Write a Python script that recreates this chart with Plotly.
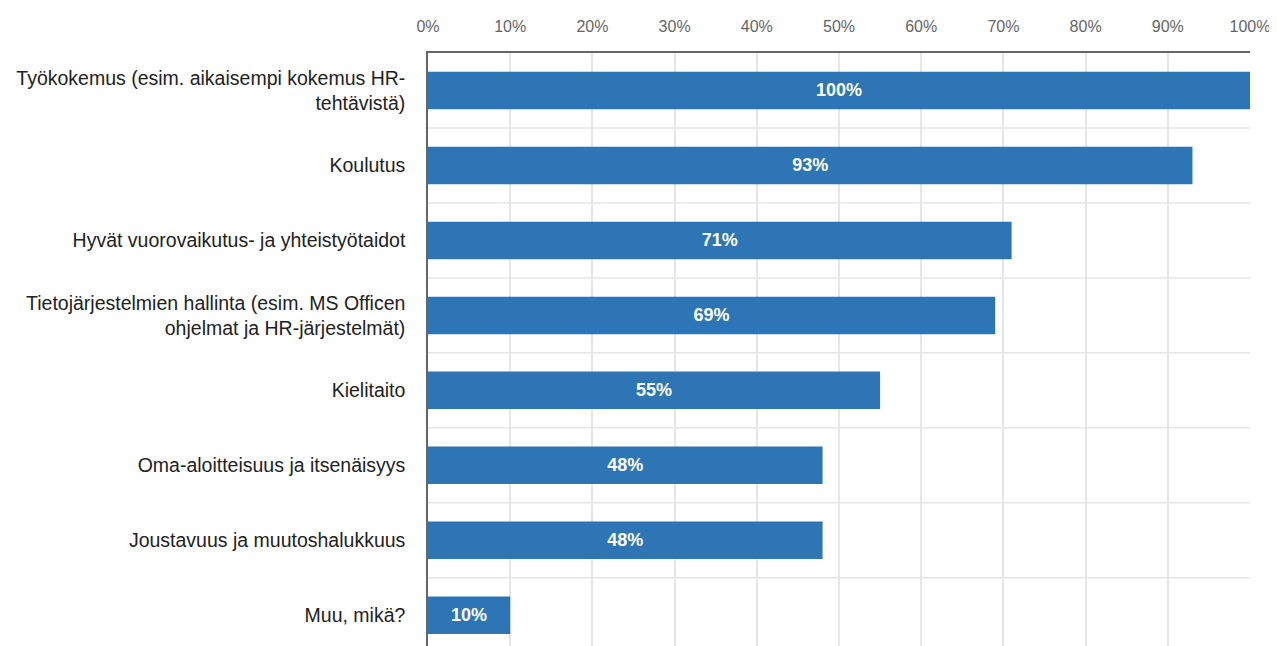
import plotly.graph_objects as go

categories = [
    "Työkokemus (esim. aikaisempi kokemus HR-<br>tehtävistä)",
    "Koulutus",
    "Hyvät vuorovaikutus- ja yhteistyötaidot",
    "Tietojärjestelmien hallinta (esim. MS Officen<br>ohjelmat ja HR-järjestelmät)",
    "Kielitaito",
    "Oma-aloitteisuus ja itsenäisyys",
    "Joustavuus ja muutoshalukkuus",
    "Muu, mikä?",
]
values = [100, 93, 71, 69, 55, 48, 48, 10]
tick_vals = [0, 10, 20, 30, 40, 50, 60, 70, 80, 90, 100]
tick_text = [f"{v}%" for v in tick_vals]

BAR_COLOR = "#2E75B6"
FONT = "Liberation Sans, Arial, sans-serif"

fig = go.Figure(go.Bar(
    x=values,
    y=categories,
    orientation="h",
    width=0.5,
    marker=dict(color=BAR_COLOR, line=dict(width=0)),
    text=[f"{v}%" for v in values],
    textposition="inside",
    insidetextanchor="middle",
    textfont=dict(color="white", size=18, family=FONT, weight="bold"),
    hoverinfo="skip",
))

# vaakaviivat kategorioiden väliin
shapes = []
for i in range(len(categories)):
    shapes.append(dict(
        type="line", xref="paper", yref="y",
        x0=0, x1=1, y0=i + 0.5, y1=i + 0.5,
        line=dict(color="#E6E6E6", width=1.5), layer="below",
    ))

# sivun body-marginaali (8px) huomioitu koossa ja marginaaleissa
fig.update_layout(
    width=1261, height=638,
    paper_bgcolor="#FFFFFF",
    plot_bgcolor="#FFFFFF",
    margin=dict(l=420, r=19, t=45, b=0),
    showlegend=False,
    shapes=shapes,
    xaxis=dict(
        side="top",
        range=[0, 100],
        tickvals=tick_vals,
        ticktext=tick_text,
        tickfont=dict(color="#666666", size=16, family=FONT),
        showgrid=True, gridcolor="#E6E6E6", gridwidth=1.5,
        zeroline=False,
        showline=True, linecolor="#666666", linewidth=1.5,
        ticks="", ticklabelstandoff=13,
        ticklabeloverflow="allow",
        automargin=False,
    ),
    yaxis=dict(
        type="category",
        range=[7.41, -0.5],
        tickfont=dict(color="#222222", size=19.5, family=FONT),
        showgrid=False,
        showline=True, linecolor="#666666", linewidth=1.5,
        ticks="", ticklabelstandoff=17,
        automargin=False,
    ),
)

fig.write_html("out.html")
